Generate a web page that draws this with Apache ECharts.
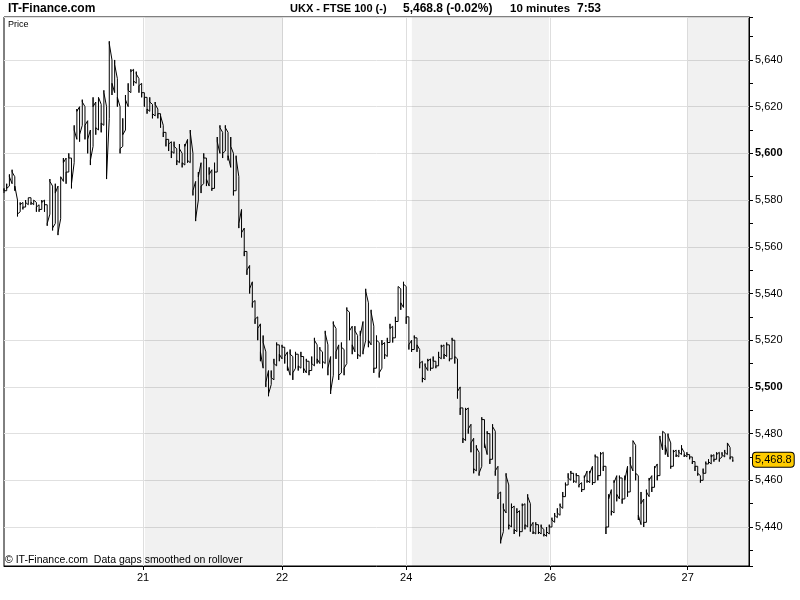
<!DOCTYPE html>
<html><head><meta charset="utf-8">
<script src="https://cdn.jsdelivr.net/npm/echarts@6/dist/echarts.min.js"></script>
<style>html,body{margin:0;padding:0;background:#fff}#c{width:800px;height:600px}</style>
</head><body><div id="c"></div>
<script>
// 10-minute bars: close, low, high (bar index = position in array)
const closes = [
5584,5585,5590,5592,5586,5574,5578,5577,5579,5581,
5579,5580,5577,5576,5579,5578,5570,5588,5568,5583,
5566,5590,5596,5592,5598,5587,5610,5618,5608,5622,
5612,5606,5597,5620,5611,5624,5613,5626,5590,5647,
5630,5638,5624,5602,5608,5623,5627,5635,5631,5634,
5629,5626,5624,5619,5622,5617,5621,5617,5616,5609,
5606,5604,5601,5603,5597,5602,5596,5603,5597,5609,
5584,5572,5590,5586,5598,5589,5591,5585,5592,5605,
5611,5600,5611,5599,5603,5584,5598,5570,5566,5558,
5550,5542,5536,5529,5525,5515,5519,5502,5497,5504,
5510,5518,5514,5517,5513,5509,5514,5506,5514,5509,
5513,5508,5511,5507,5510,5520,5512,5516,5511,5523,
5508,5498,5527,5515,5505,5517,5508,5533,5524,5518,
5524,5514,5522,5515,5541,5520,5532,5508,5520,5506,
5518,5514,5519,5525,5521,5528,5543,5536,5544,5530,
5518,5516,5521,5518,5510,5504,5509,5511,5508,5511,
5509,5513,5517,5514,5518,5512,5520,5513,5498,5491,
5478,5490,5482,5476,5465,5474,5463,5486,5476,5480,
5469,5483,5464,5454,5434,5448,5462,5441,5448,5439,
5446,5438,5449,5441,5453,5440,5438,5441,5438,5440,
5437,5438,5440,5443,5445,5446,5449,5453,5458,5461,
5463,5460,5462,5458,5456,5461,5460,5463,5459,5470,
5462,5471,5466,5440,5452,5447,5459,5454,5461,5452,
5460,5455,5467,5477,5463,5445,5450,5442,5455,5460,
5457,5465,5462,5478,5481,5475,5479,5466,5472,5471,
5472,5474,5471,5471,5470,5468,5466,5463,5460,5463,
5467,5468,5470,5469,5471,5469,5471,5472,5476,5470,
5468.8
];
const lows = [
5583,5584,5586,5587,5584,5573,5575,5576,5577,5578,
5578,5578,5575,5575,5576,5575,5569,5574,5567,5570,
5565,5572,5588,5587,5592,5585,5596,5606,5605,5612,
5606,5600,5595,5603,5608,5610,5609,5612,5589,5615,
5625,5626,5620,5600,5603,5610,5620,5626,5629,5630,
5626,5624,5620,5617,5618,5615,5616,5615,5611,5607,
5603,5601,5598,5600,5595,5596,5594,5595,5596,5596,
5582,5571,5580,5583,5587,5586,5586,5584,5585,5592,
5600,5598,5601,5597,5594,5582,5584,5568,5564,5556,
5548,5540,5534,5527,5520,5511,5508,5500,5496,5501,
5503,5509,5511,5512,5510,5507,5505,5503,5508,5507,
5508,5506,5506,5505,5507,5509,5510,5510,5508,5510,
5505,5497,5505,5512,5503,5506,5505,5510,5520,5514,
5515,5512,5513,5514,5520,5517,5518,5506,5508,5504,
5508,5512,5513,5519,5519,5521,5528,5533,5534,5527,
5516,5515,5516,5515,5508,5502,5503,5507,5507,5508,
5508,5509,5512,5512,5513,5511,5512,5510,5495,5488,
5476,5477,5480,5472,5463,5464,5462,5466,5474,5471,
5467,5469,5462,5452,5433,5438,5446,5439,5440,5437,
5438,5436,5438,5439,5440,5438,5437,5437,5437,5437,
5436,5436,5437,5440,5442,5444,5445,5448,5453,5458,
5460,5459,5459,5457,5455,5456,5459,5459,5458,5459,
5460,5462,5464,5437,5440,5445,5446,5451,5452,5450,
5452,5453,5455,5464,5460,5443,5441,5440,5442,5453,
5455,5457,5460,5462,5473,5471,5470,5465,5466,5470,
5470,5471,5470,5470,5469,5467,5464,5462,5459,5460,
5463,5467,5467,5468,5469,5468,5470,5470,5471,5469,
5468
];
const highs = [
5585,5587,5591,5593,5590,5580,5579,5579,5580,5581,
5581,5580,5579,5578,5580,5580,5578,5589,5586,5587,
5586,5590,5598,5598,5600,5598,5612,5619,5620,5623,
5620,5614,5610,5624,5622,5624,5621,5627,5620,5648,
5640,5640,5632,5620,5615,5625,5630,5636,5636,5635,
5632,5630,5626,5624,5624,5621,5622,5619,5617,5612,
5609,5606,5605,5605,5602,5604,5600,5604,5606,5610,
5600,5588,5592,5596,5600,5598,5594,5593,5596,5607,
5612,5609,5612,5609,5607,5600,5599,5590,5576,5568,
5558,5552,5545,5537,5530,5527,5522,5515,5507,5507,
5512,5519,5518,5518,5517,5515,5516,5513,5515,5514,
5515,5513,5512,5511,5513,5521,5518,5517,5515,5524,
5518,5513,5528,5525,5518,5519,5516,5534,5532,5526,
5526,5522,5524,5528,5542,5536,5533,5526,5522,5519,
5520,5519,5521,5527,5526,5530,5543,5542,5545,5543,
5530,5520,5522,5521,5516,5511,5510,5512,5512,5513,
5511,5515,5518,5518,5519,5518,5521,5520,5512,5500,
5491,5491,5491,5484,5478,5475,5472,5487,5486,5481,
5480,5484,5481,5466,5455,5450,5463,5458,5450,5449,
5448,5447,5450,5450,5454,5450,5442,5442,5441,5441,
5439,5440,5441,5444,5446,5448,5450,5455,5459,5463,
5464,5463,5463,5462,5459,5462,5464,5464,5466,5471,
5470,5472,5472,5466,5454,5456,5460,5462,5462,5461,
5462,5466,5470,5477,5475,5462,5455,5452,5456,5461,
5462,5466,5467,5479,5481,5480,5480,5476,5473,5473,
5473,5475,5472,5472,5471,5470,5468,5466,5462,5465,
5468,5469,5471,5471,5472,5472,5472,5473,5476,5474,
5470
];
const dayTickBars = [51.5, 103, 149, 202.3, 253.3];
const dayLabels = ['21', '22', '24', '26', '27'];
const shadeBands = [[52.2, 103.3], [151.1, 201.9], [253.3, 276]];
const boldPrices = [5600, 5500];
const lastValue = 5468.8;
const titleParts = ['UKX - FTSE 100 (-)', '5,468.8 (-0.02%)', '10 minutes', '7:53'];
const brand = 'IT-Finance.com';
const footer = '\u00A9 IT-Finance.com  Data gaps smoothed on rollover';

// path through each bar: previous close -> first extreme -> second extreme -> close
const path = [];
closes.forEach((c, i) => {
  const prev = i > 0 ? closes[i - 1] : c;
  if (c >= prev) { path.push([i, lows[i]], [i, highs[i]]); }
  else { path.push([i, highs[i]], [i, lows[i]]); }
  path.push([i, c]);
});

const fmt = v => v.toLocaleString('en-US', {maximumFractionDigits: 1});
const FONT = 'Liberation Sans, Arial, sans-serif';
const titleLeft = [290, 403, 510, 577];
const titleSize = [11, 12, 11.5, 12];
const ts = {fontSize: 12, fontWeight: 'bold', color: '#000', fontFamily: FONT};

const chart = echarts.init(document.getElementById('c'), null, {renderer: 'canvas'});
chart.setOption({
  animation: false,
  backgroundColor: '#fff',
  textStyle: {fontFamily: FONT},
  title: [
    {text: brand, left: 8, top: 3, padding: 0, textStyle: ts},
    ...titleParts.map((t, k) => ({text: t, left: titleLeft[k], top: 3, padding: 0,
      textStyle: Object.assign({}, ts, {fontSize: titleSize[k]})})),
    {text: 'Price', left: 8, top: 20, padding: 0, textStyle: {fontSize: 9, fontWeight: 'normal', color: '#000', fontFamily: FONT}},
    {text: footer, left: 5, top: 555, padding: 0, textStyle: {fontSize: 10.5, fontWeight: 'normal', color: '#000', fontFamily: FONT}}
  ],
  grid: {left: 4, right: 51, top: 17, bottom: 34, show: true, borderColor: '#000', borderWidth: 1, backgroundColor: 'transparent'},
  xAxis: {
    type: 'value', min: 0, max: 276,
    axisLine: {show: true, onZero: false, lineStyle: {color: '#000'}},
    axisTick: {show: true, length: 4, customValues: dayTickBars, lineStyle: {color: '#000'}},
    axisLabel: {customValues: dayTickBars, color: '#000', fontSize: 11, margin: 6,
      formatter: v => { const i = dayTickBars.findIndex(b => Math.abs(b - v) < 0.01); return i >= 0 ? dayLabels[i] : ''; }},
    splitLine: {show: true, lineStyle: {color: '#dedede', width: 1}}
  },
  yAxis: {
    type: 'value', position: 'right', min: 5423.3, max: 5658.4, splitNumber: 12,
    axisLine: {show: true, onZero: false, lineStyle: {color: '#000'}},
    axisTick: {show: true, length: 4, lineStyle: {color: '#000'}},
    minorTick: {show: true, splitNumber: 2, length: 4, lineStyle: {color: '#000'}},
    splitLine: {show: true, lineStyle: {color: '#e0e0e0', width: 1}},
    axisLabel: {color: '#000', fontSize: 11, margin: 6,
      formatter: v => {
        if (Math.abs(v / 20 - Math.round(v / 20)) > 1e-6) return '';
        const s = fmt(v);
        return boldPrices.includes(Math.round(v)) ? '{b|' + s + '}' : s;
      },
      rich: {b: {fontWeight: 'bold', fontSize: 11, color: '#000'}}},
    axisPointer: {
      show: true, value: lastValue, status: 'show', triggerTooltip: false, snap: false,
      lineStyle: {opacity: 0},
      label: {show: true, backgroundColor: '#ffcc00', color: '#000', borderColor: '#000', borderWidth: 1,
        padding: [2, 2, 1, 2], fontSize: 11, margin: 4, formatter: p => fmt(p.value)}
    }
  },
  series: [{
    type: 'line',
    data: path,
    showSymbol: false, symbol: 'none',
    lineStyle: {color: '#000', width: 1},
    markArea: {silent: true, itemStyle: {color: 'rgba(0,0,0,0.055)'},
      data: shadeBands.map(b => [{xAxis: b[0]}, {xAxis: b[1]}])}
  }]
});
</script></body></html>
